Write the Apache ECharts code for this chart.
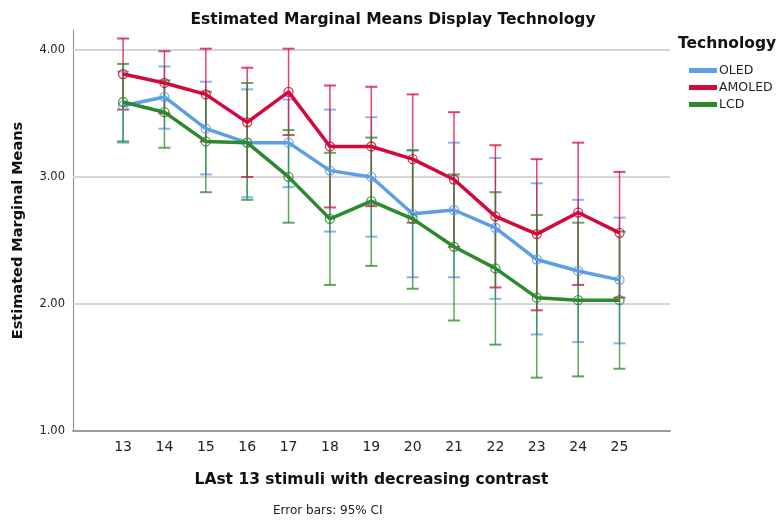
<!DOCTYPE html>
<html>
<head>
<meta charset="utf-8">
<script src="https://cdn.jsdelivr.net/npm/echarts@6/dist/echarts.min.js"></script>
<style>
  html, body { margin: 0; padding: 0; background: #fff; }
  #chart { width: 784px; height: 525px; }
</style>
</head>
<body>
<div id="chart"></div>
<script>
// stimuli 13..25
const stimuli = [13, 14, 15, 16, 17, 18, 19, 20, 21, 22, 23, 24, 25]
const yTicks = [1, 2, 3, 4]

const oledMean = [3.56, 3.63, 3.38, 3.27, 3.27, 3.05, 3.00, 2.71, 2.74, 2.60, 2.35, 2.26, 2.19]
const oledLow = [3.27, 3.38, 3.02, 2.84, 2.92, 2.57, 2.53, 2.21, 2.21, 2.04, 1.76, 1.70, 1.69]
const oledHigh = [3.83, 3.87, 3.75, 3.69, 3.61, 3.53, 3.47, 3.21, 3.27, 3.15, 2.95, 2.82, 2.68]

const amoledMean = [3.81, 3.74, 3.65, 3.43, 3.67, 3.24, 3.24, 3.14, 2.98, 2.69, 2.55, 2.72, 2.56]
const amoledLow = [3.53, 3.50, 3.28, 3.00, 3.33, 2.76, 2.77, 2.64, 2.45, 2.13, 1.95, 2.15, 2.05]
const amoledHigh = [4.09, 3.99, 4.01, 3.86, 4.01, 3.72, 3.71, 3.65, 3.51, 3.25, 3.14, 3.27, 3.04]

const lcdMean = [3.59, 3.51, 3.28, 3.27, 3.00, 2.67, 2.81, 2.67, 2.45, 2.28, 2.05, 2.03, 2.03]
const lcdLow = [3.28, 3.23, 2.88, 2.82, 2.64, 2.15, 2.30, 2.12, 1.87, 1.68, 1.42, 1.43, 1.49]
const lcdHigh = [3.89, 3.76, 3.67, 3.74, 3.37, 3.19, 3.31, 3.21, 3.02, 2.88, 2.70, 2.64, 2.57]

const font = 'DejaVu Sans'
const techs = [
  { name: 'OLED', color: '#5c9ee8', mean: oledMean, low: oledLow, high: oledHigh },
  { name: 'AMOLED', color: '#d5083c', mean: amoledMean, low: amoledLow, high: amoledHigh },
  { name: 'LCD', color: '#2b8a2b', mean: lcdMean, low: lcdLow, high: lcdHigh }
]

const errorBar = (color) => (params, api) => {
  const x = api.value(0)
  const top = api.coord([x, api.value(2)])
  const bot = api.coord([x, api.value(1)])
  const half = 6
  const style = { stroke: color, lineWidth: 1.5, opacity: 0.75 }
  return {
    type: 'group',
    children: [
      { type: 'line', shape: { x1: top[0], y1: top[1], x2: bot[0], y2: bot[1] }, style },
      { type: 'line', shape: { x1: top[0] - half, y1: top[1], x2: top[0] + half, y2: top[1] }, style: { ...style, lineWidth: 2 } },
      { type: 'line', shape: { x1: bot[0] - half, y1: bot[1], x2: bot[0] + half, y2: bot[1] }, style: { ...style, lineWidth: 2 } }
    ]
  }
}

const series = []
techs.forEach((t) => {
  series.push({
    name: t.name + ' CI',
    type: 'custom',
    renderItem: errorBar(t.color),
    data: stimuli.map((s, i) => [s, t.low[i], t.high[i]]),
    z: 2,
    silent: true
  })
})
techs.forEach((t, k) => {
  series.push({
    name: t.name,
    type: 'line',
    data: stimuli.map((s, i) => [s, t.mean[i]]),
    symbol: 'circle',
    symbolSize: 9,
    showSymbol: true,
    lineStyle: { color: t.color, width: 3.5 },
    itemStyle: { color: 'rgba(255,255,255,0)', borderColor: t.color, borderWidth: 1.3, opacity: 0.85 },
    z: 3 + k,
    animation: false,
    markLine: k === 0 ? {
      silent: true,
      symbol: 'none',
      label: { show: false },
      lineStyle: { color: '#d6d6d6', width: 2, type: 'solid' },
      data: yTicks.filter((v) => v > 1).map((v) => ({ yAxis: v })),
      z: 1,
      animation: false
    } : undefined
  })
})

const chart = echarts.init(document.getElementById('chart'))
chart.setOption({
  animation: false,
  color: techs.map((t) => t.color),
  title: {
    text: 'Estimated Marginal Means Display Technology',
    left: 388,
    textAlign: 'center',
    top: 7,
    textStyle: { fontFamily: font, fontSize: 15.5, fontWeight: 'bold', color: '#111' }
  },
  grid: { left: 73, right: 114, top: 30, bottom: 94 },
  legend: {
    data: techs.map((t) => ({ name: t.name, itemStyle: { color: t.color, opacity: 1 } })),
    orient: 'vertical',
    left: 684,
    top: 59,
    itemWidth: 26,
    itemHeight: 3,
    itemGap: 4,
    icon: 'rect',
    textStyle: { fontFamily: font, fontSize: 12.5, color: '#222', padding: [0, 0, 0, -2] }
  },
  graphic: [
    {
      type: 'text',
      left: 678,
      top: 36,
      style: { text: 'Technology', font: 'bold 15.5px "DejaVu Sans"', fill: '#111' }
    },
    {
      type: 'text',
      left: 273,
      top: 505,
      style: { text: 'Error bars: 95% CI', font: '12px "DejaVu Sans"', fill: '#222' }
    }
  ],
  xAxis: {
    type: 'value',
    min: 11.79,
    max: 26.22,
    name: 'LAst 13 stimuli with decreasing contrast',
    nameLocation: 'middle',
    nameGap: 41,
    nameTextStyle: { fontFamily: font, fontSize: 15.5, fontWeight: 'bold', color: '#111' },
    axisLine: { lineStyle: { color: '#9a9a9a', width: 2 } },
    axisTick: { show: false },
    splitLine: { show: false },
    axisLabel: {
      customValues: stimuli,
      fontFamily: font,
      fontSize: 14,
      color: '#222',
      margin: 9
    }
  },
  yAxis: {
    type: 'value',
    min: 1,
    max: 4.157,
    name: 'Estimated Marginal Means',
    nameLocation: 'middle',
    nameGap: 47,
    nameTextStyle: { fontFamily: font, fontSize: 14.5, fontWeight: 'bold', color: '#111' },
    axisLine: { show: true, lineStyle: { color: '#8a8a8a', width: 1 } },
    axisTick: { show: false },
    splitLine: { show: false },
    axisLabel: {
      customValues: yTicks,
      formatter: (v) => v.toFixed(2),
      fontFamily: font,
      fontSize: 11.5,
      color: '#222',
      margin: 8
    }
  },
  series
})
</script>
</body>
</html>
